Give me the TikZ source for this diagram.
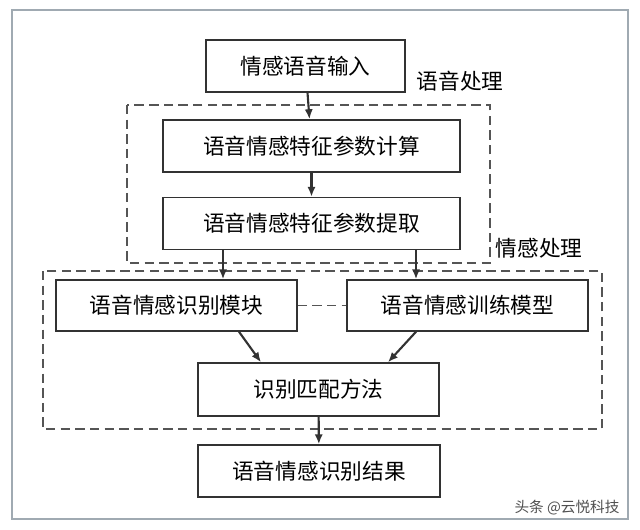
\documentclass[tikz,border=0pt]{standalone}
\usepackage{fontspec}
\setmainfont{Noto Sans CJK SC}
\usepackage{tikz}
\usetikzlibrary{arrows.meta,positioning,calc}
\usepackage{xcolor}
\definecolor{boxline}{RGB}{50,50,50}
\definecolor{groupline}{RGB}{85,85,85}
\definecolor{frameline}{RGB}{160,170,178}
\definecolor{markgray}{RGB}{80,80,80}

\begin{document}
\begin{tikzpicture}[
    x=0.03cm, y=-0.03cm,
    stage/.style={draw=boxline, line width=1.3pt, fill=white, minimum height=1.56cm,
                  align=center, inner sep=0pt, font=\fontsize{18.5}{20}\selectfont},
    grp/.style={draw=groupline, line width=1.2pt, dash pattern=on 8pt off 4.5pt},
    grplabel/.style={font=\fontsize{18.5}{20}\selectfont, inner sep=0pt},
    arr/.style={-{Latex[length=8.5pt,width=7pt]}, line width=1.8pt, boxline}
]
\useasboundingbox[fill=white] (0,0) rectangle (640,530);
\draw[frameline, line width=1pt] (12,10) rectangle (628,519);

\draw[grp] (127,105) rectangle (490,263);
\draw[grp] (43,271) rectangle (602,429);
\node[grplabel] (lblVoice) at (460,81) {语音处理};
\node[grplabel] (lblEmo) at (539,248) {情感处理};

\node[stage, minimum width=5.97cm] (input) at (305.5,66) {情感语音输入};
\node[stage, minimum width=8.91cm] (calc) at (311.5,146) {语音情感特征参数计算};
\node[stage, minimum width=8.91cm] (extract) at (311.5,223.5) {语音情感特征参数提取};
\node[stage, minimum width=7.23cm, minimum height=1.53cm] (recog) at (176.5,305.5) {语音情感识别模块};
\node[stage, minimum width=7.23cm, minimum height=1.53cm] (train) at (467.5,305.5) {语音情感训练模型};
\node[stage, minimum width=7.23cm, minimum height=1.59cm] (match) at (318.5,389.5) {识别匹配方法};
\node[stage, minimum width=7.26cm] (result) at (319,471) {语音情感识别结果};

\coordinate (tapL) at (223,0);
\coordinate (tapR) at (416,0);

\draw[arr] (input) -- (calc);
\draw[arr] (calc) -- (extract);
\draw[arr] (extract.south -| tapL) -- (recog.north -| tapL);
\draw[arr] (extract.south -| tapR) -- (train.north -| tapR);
\draw[grp] (recog) -- (train);
\draw[arr] ([xshift=1.875cm]recog.south) -- ([xshift=-1.725cm]match.north);
\draw[arr] ([xshift=-1.545cm]train.south) -- ([xshift=2.085cm]match.north);
\draw[arr] (match) -- (result);

\node[text=markgray, font=\fontsize{12.5}{14}\selectfont, inner sep=0pt] (mark) at (567,508) {头条 @云悦科技};
\end{tikzpicture}
\end{document}
